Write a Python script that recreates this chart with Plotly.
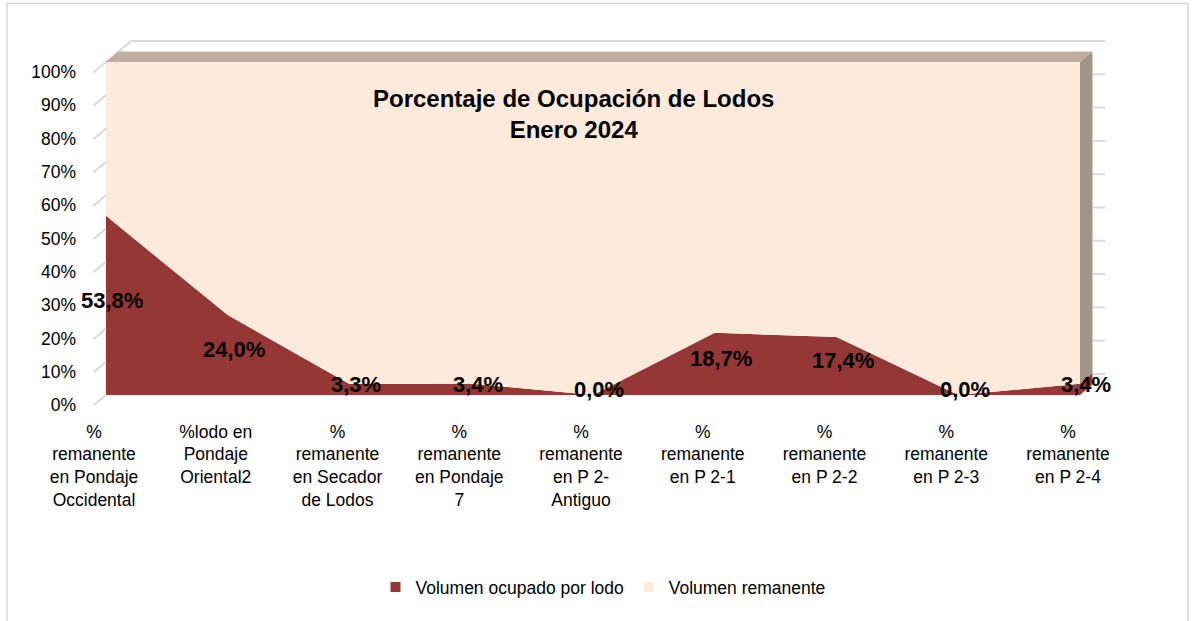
import plotly.graph_objects as go

# datos (enero 2024)
categorias = [
    "%<br>remanente<br>en Pondaje<br>Occidental",
    "%lodo en<br>Pondaje<br>Oriental2",
    "%<br>remanente<br>en Secador<br>de Lodos",
    "%<br>remanente<br>en Pondaje<br>7",
    "%<br>remanente<br>en P 2-<br>Antiguo",
    "%<br>remanente<br>en P 2-1",
    "%<br>remanente<br>en P 2-2",
    "%<br>remanente<br>en P 2-3",
    "%<br>remanente<br>en P 2-4",
]
ocupado = [53.8, 24.0, 3.3, 3.4, 0.0, 18.7, 17.4, 0.0, 3.4]
remanente = [round(100 - v, 1) for v in ocupado]

ROJO = "#953735"
MELOCOTON = "#FDEADB"
TAPA = "#C1AEA0"
LADO = "#A1958A"
GRIS = "#D9D9D9"

# geometria del area de trazado (px) y profundidad del efecto 3D
W, H = 1196, 621
L, R, T, B = 106, 1080, 62, 395
DX, DY = 12.5, 10.5
pw, ph = R - L, B - T


def px(x):
    return (x - L) / pw


def py(y):
    return (B - y) / ph


dx, dy = DX / pw, DY / ph
n = len(ocupado)
x = list(range(n))

fig = go.Figure()
fig.add_trace(go.Scatter(x=x, y=ocupado, stackgroup="a", mode="none",
                         fillcolor=ROJO, showlegend=False, hoverinfo="skip"))
fig.add_trace(go.Scatter(x=x, y=remanente, stackgroup="a", mode="none",
                         fillcolor=MELOCOTON, showlegend=False, hoverinfo="skip"))

# entradas de leyenda
for nombre, col in [("Volumen ocupado por lodo", ROJO), ("Volumen remanente", MELOCOTON)]:
    fig.add_trace(go.Scatter(x=[None], y=[None], mode="markers", name=nombre,
                             marker=dict(symbol="square", size=10, color=col)))

shapes = []
# marco exterior
shapes.append(dict(type="rect", xref="paper", yref="paper",
                   x0=px(7), x1=px(1188), y0=py(640), y1=py(3.5),
                   line=dict(color=GRIS, width=1.5), fillcolor="rgba(0,0,0,0)"))
# lineas del muro izquierdo
for k in range(11):
    yk = k / 10
    x1 = 2 * dx if k == 10 else 0
    y1 = yk + 2 * dy if k == 10 else yk
    shapes.append(dict(type="line", xref="paper", yref="paper",
                       x0=-dx, y0=yk - dy, x1=x1, y1=y1,
                       line=dict(color=GRIS, width=2)))
# muro del fondo: linea superior y marcas a la derecha
shapes.append(dict(type="line", xref="paper", yref="paper",
                   x0=2 * dx, y0=1 + 2 * dy, x1=1 + 2 * dx, y1=1 + 2 * dy,
                   line=dict(color=GRIS, width=2)))
for k in range(10):
    yk = k / 10 + 2 * dy
    shapes.append(dict(type="line", xref="paper", yref="paper",
                       x0=1 + dx, y0=yk, x1=1 + 2 * dx, y1=yk,
                       line=dict(color=GRIS, width=2)))
# cara superior y cara lateral
shapes.append(dict(type="path", xref="paper", yref="paper",
                   path=f"M0,1 L1,1 L{1+dx},{1+dy} L{dx},{1+dy} Z",
                   fillcolor=TAPA, line=dict(width=0)))
ult = ocupado[-1] / 100
shapes.append(dict(type="path", xref="paper", yref="paper",
                   path=f"M1,{ult} L{1+dx},{ult+dy} L{1+dx},{1+dy} L1,1 Z",
                   fillcolor=LADO, line=dict(width=0)))
shapes.append(dict(type="path", xref="paper", yref="paper",
                   path=f"M1,0 L{1+dx},{dy} L{1+dx},{ult+dy} L1,{ult} Z",
                   fillcolor=ROJO, line=dict(width=0)))

fuente = "Liberation Sans, Arial, sans-serif"

# etiquetas de datos a media profundidad (en coordenadas de papel para que
# la ultima, fuera del rango del eje, tambien se dibuje)
anotaciones = [dict(text=f"<b>{v:.1f}%</b>".replace(".", ","),
                    x=i / (n - 1) + dx / 2, y=v / 200 + dy / 2,
                    xref="paper", yref="paper", showarrow=False,
                    xanchor="center", yanchor="middle",
                    font=dict(family=fuente, size=22, color="black"))
               for i, v in zip(x, ocupado)]
anotaciones.append(dict(text="<b>Porcentaje de Ocupación de Lodos<br>Enero 2024</b>",
                        xref="paper", yref="paper", x=px(573), y=py(114), showarrow=False,
                        xanchor="center", yanchor="middle",
                        font=dict(family=fuente, size=24, color="black")))

fig.update_layout(
    width=W, height=H,
    margin=dict(l=L, r=W - R, t=T, b=H - B),
    paper_bgcolor="white", plot_bgcolor="white",
    font=dict(family=fuente, size=17.5, color="black"),
    shapes=shapes,
    showlegend=True,
    legend=dict(orientation="h", x=px(603), xanchor="center", y=py(587), yanchor="middle",
                traceorder="normal", font=dict(size=17.5), itemwidth=30,
                bgcolor="rgba(0,0,0,0)"),
    annotations=anotaciones,
)
fig.update_xaxes(range=[0, n - 1], tickvals=x, ticktext=categorias, showgrid=False,
                 zeroline=False, showline=False, ticks="", ticklabelshift=-12,
                 ticklabelstandoff=24, tickfont=dict(size=17.5))
fig.update_yaxes(range=[0, 100], dtick=10, ticksuffix="%", showgrid=False,
                 zeroline=False, showline=False, ticks="", ticklabelshift=10,
                 ticklabelstandoff=29, tickfont=dict(size=17.5))

fig.write_html("out.html", config={"displayModeBar": False},
               post_script="document.body.style.margin='0';")
